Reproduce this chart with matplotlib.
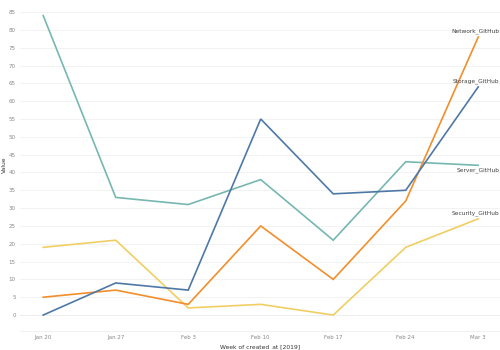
import matplotlib
matplotlib.use("Agg")
import matplotlib.pyplot as plt

weeks = ["Jan 20", "Jan 27", "Feb 3", "Feb 10", "Feb 17", "Feb 24", "Mar 3"]

server = [84, 33, 31, 38, 21, 43, 42]
storage = [0, 9, 7, 55, 34, 35, 64]
network = [5, 7, 3, 25, 10, 32, 78]
security = [19, 21, 2, 3, 0, 19, 27]

series = [
    ("Server_GitHub", server, "#76b7b2", "below"),
    ("Security_GitHub", security, "#f1ce63", "above"),
    ("Network_GitHub", network, "#f28e2b", "above"),
    ("Storage_GitHub", storage, "#4e79a7", "above"),
]

fig = plt.figure(figsize=(5, 3.5), dpi=100)
ax = fig.add_axes([0.04, 0.054, 0.96, 0.932])

x = list(range(len(weeks)))
for name, vals, color, pos in series:
    ax.plot(x, vals, color=color, lw=1.2, solid_joinstyle="miter")
    dy = 1.5 if pos == "above" else -1.3
    ax.text(x[-1] + 0.29, vals[-1] + dy, name, fontsize=4.2, color="#444444",
            ha="right", va="center")

ax.set_xlim(-0.32, 6.3)
ax.set_ylim(-4.5, 87)
ax.set_yticks(range(0, 90, 5))
ax.set_xticks(x)
ax.set_xticklabels(weeks)
ax.tick_params(axis="both", length=0, labelsize=4, labelcolor="#888888", pad=3)

ax.grid(axis="y", color="#f0f0f0", lw=0.6)
ax.axhline(0, color="#e6e6e6", lw=0.7, zorder=0)
ax.set_axisbelow(True)
for s in ax.spines.values():
    s.set_visible(False)
ax.spines["bottom"].set_visible(True)
ax.spines["bottom"].set_color("#eeeeee")
ax.spines["bottom"].set_linewidth(0.6)

ax.set_xlabel("Week of created_at [2019]", fontsize=4.3, color="#333333", labelpad=3)
ax.set_ylabel("Value", fontsize=4.3, color="#333333")
ax.yaxis.set_label_coords(-0.028, 0.51)

fig.savefig("out.png", dpi=100)
